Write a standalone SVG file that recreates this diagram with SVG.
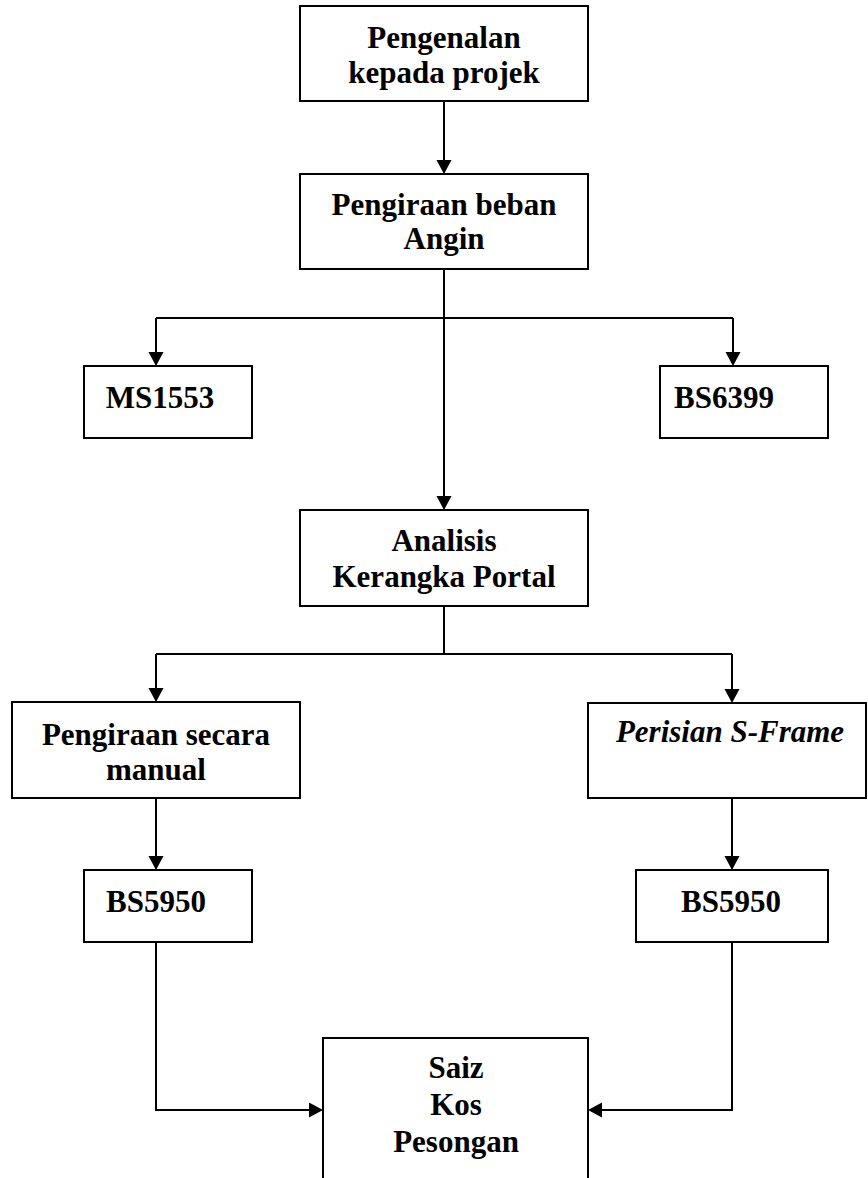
<svg xmlns="http://www.w3.org/2000/svg" width="868" height="1178" viewBox="0 0 868 1178">
<style>
.box{fill:#fff;stroke:#000;stroke-width:2}
.t{font-family:"Liberation Serif","Times New Roman",serif;font-weight:bold;font-size:31px;fill:#000;text-anchor:middle}
.i{font-style:italic}
.c{fill:none;stroke:#000;stroke-width:2}
</style>
<defs>
<marker id="ah" markerUnits="userSpaceOnUse" markerWidth="16" markerHeight="16" refX="8" refY="7.5" orient="auto">
<path d="M0,0 L14,7.5 L0,15 z" fill="#000"/>
</marker>
</defs>
<rect width="868" height="1178" fill="#fff"/>
<g id="connectors">
<path class="c" d="M444,101 V168" marker-end="url(#ah)"/>
<path class="c" d="M444,269 V504" marker-end="url(#ah)"/>
<path class="c" d="M156,318 H733"/>
<path class="c" d="M156,318 V360" marker-end="url(#ah)"/>
<path class="c" d="M733,318 V360" marker-end="url(#ah)"/>
<path class="c" d="M444,606 V654"/>
<path class="c" d="M156,654 H732"/>
<path class="c" d="M156,654 V696" marker-end="url(#ah)"/>
<path class="c" d="M732,654 V697" marker-end="url(#ah)"/>
<path class="c" d="M156,798 V864" marker-end="url(#ah)"/>
<path class="c" d="M732,798 V864" marker-end="url(#ah)"/>
<path class="c" d="M156,942 V1110 H317" marker-end="url(#ah)"/>
<path class="c" d="M732,942 V1110 H594" marker-end="url(#ah)"/>
</g>
<g id="n1"><rect class="box" x="300" y="6" width="288" height="95"/>
<text class="t" x="444" y="48">Pengenalan</text><text class="t" x="444" y="83">kepada projek</text></g>
<g id="n2"><rect class="box" x="300" y="174" width="288" height="95"/>
<text class="t" x="444" y="215">Pengiraan beban</text><text class="t" x="444" y="249">Angin</text></g>
<g id="n3"><rect class="box" x="84" y="366" width="168" height="72"/>
<text class="t" x="160" y="408">MS1553</text></g>
<g id="n4"><rect class="box" x="660" y="366" width="168" height="72"/>
<text class="t" x="724" y="408">BS6399</text></g>
<g id="n5"><rect class="box" x="300" y="510" width="288" height="96"/>
<text class="t" x="444" y="551">Analisis</text><text class="t" x="444" y="587">Kerangka Portal</text></g>
<g id="n6"><rect class="box" x="12" y="702" width="288" height="96"/>
<text class="t" x="156" y="745">Pengiraan secara</text><text class="t" x="156" y="780">manual</text></g>
<g id="n7"><rect class="box" x="588" y="703" width="278" height="95"/>
<text class="t i" x="730" y="742">Perisian S-Frame</text></g>
<g id="n8"><rect class="box" x="84" y="870" width="168" height="72"/>
<text class="t" x="156" y="912">BS5950</text></g>
<g id="n9"><rect class="box" x="636" y="870" width="192" height="72"/>
<text class="t" x="731" y="912">BS5950</text></g>
<g id="n10"><rect class="box" x="323" y="1038" width="265" height="200"/>
<text class="t" x="456" y="1078">Saiz</text><text class="t" x="456" y="1115">Kos</text><text class="t" x="456" y="1152">Pesongan</text></g>
</svg>
